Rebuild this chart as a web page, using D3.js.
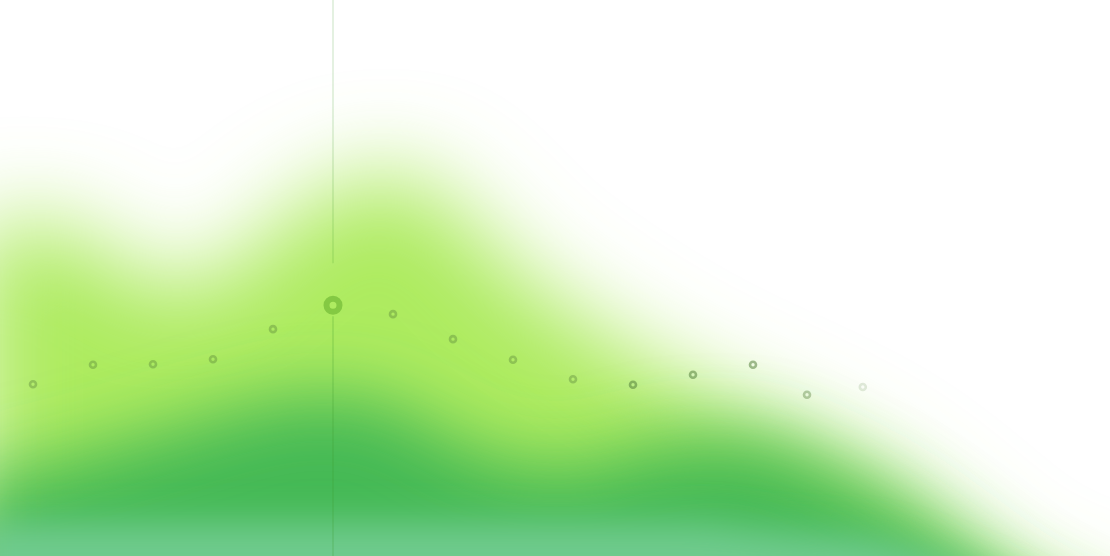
<!DOCTYPE html>
<html>
<head>
<meta charset="utf-8">
<script src="https://cdn.jsdelivr.net/npm/d3@7"></script>
<style>
  html, body { margin: 0; padding: 0; background: #fff; overflow: hidden; }
  svg { display: block; }
</style>
</head>
<body>
<div id="chart"></div>
<script>
const width = 1110;
const height = 556;

// point positions (in category units) and values for the marker line
const pointX = [0, 1, 2, 3, 4, 5, 6, 7, 8, 9, 10, 11, 12, 12.9, 13.83];
const pointValues = [30.9, 34.4, 34.5, 35.4, 40.8, 45.1, 43.5, 39.0, 35.3, 31.8, 30.8, 32.6, 34.4, 29.0, 30.4];
const activeIndex = 5;

// background series, sampled one unit apart starting left of the frame
const areaX = [-1, 0, 1, 2, 3, 4, 5, 6, 7, 8, 9, 10, 11, 12, 13, 14, 15, 16, 17, 18];
const limeValues = [59, 60, 57, 49, 50, 59, 66, 69, 63, 52, 44, 37, 31, 26, 21, 15, 7, -2, -8, -10];
const greenValues = [14, 16, 19, 22, 25, 28, 29, 27, 21, 17, 16, 19, 21, 21, 17, 12, 5, -3, -10, -14];
const tealValues = [6, 6, 6, 6, 6, 6, 6, 6, 6, 6, 6, 6, 6, 5, 4, 3, 0, -4, -9, -12];

const x = d3.scaleLinear().domain([0, 12]).range([33, 753]);
const y = d3.scaleLinear().domain([0, 100]).range([height, 0]);

const svg = d3.select("#chart").append("svg")
    .attr("width", width)
    .attr("height", height);

const defs = svg.append("defs");
[["blurBig", 46], ["blurMid", 36], ["blurSmall", 18]].forEach(([id, s]) => {
    defs.append("filter")
        .attr("id", id)
        .attr("x", "-50%").attr("y", "-50%")
        .attr("width", "200%").attr("height", "200%")
        .append("feGaussianBlur")
        .attr("stdDeviation", s);
});

// areas extend below the frame so the blur doesn't fade the bottom edge
const area = d3.area()
    .x(d => x(d[0]))
    .y0(height + 200)
    .y1(d => y(d[1]))
    .curve(d3.curveMonotoneX);

const bg = svg.append("g");

bg.append("path")
    .datum(areaX.map((v, i) => [v, limeValues[i]]))
    .attr("d", area)
    .attr("fill", "#adeb5f")
    .attr("filter", "url(#blurBig)");

bg.append("path")
    .datum(areaX.map((v, i) => [v, greenValues[i]]))
    .attr("d", area)
    .attr("fill", "#45b955")
    .attr("filter", "url(#blurMid)");

bg.append("path")
    .datum(areaX.map((v, i) => [v, tealValues[i]]))
    .attr("d", area)
    .attr("fill", "#6fcb8e")
    .attr("filter", "url(#blurSmall)");

// pointer line through the active point, with a gap around the marker
const ax = x(pointX[activeIndex]);
const ay = y(pointValues[activeIndex]);
svg.append("line")
    .attr("x1", ax).attr("x2", ax)
    .attr("y1", 0).attr("y2", ay - 42)
    .attr("stroke", "rgba(60,150,40,0.28)")
    .attr("stroke-width", 1);
svg.append("line")
    .attr("x1", ax).attr("x2", ax)
    .attr("y1", ay + 11).attr("y2", height)
    .attr("stroke", "rgba(60,150,40,0.35)")
    .attr("stroke-width", 1);

const dotOpacity = i => i === 14 ? 0.16 : i === 13 ? 0.38 : i >= 10 ? 0.52 : 0.36;

const points = pointValues.map((v, i) => ({ i, x: pointX[i], v }))
    .filter(d => d.i !== activeIndex);

svg.append("g")
    .selectAll("circle")
    .data(points)
    .join("circle")
    .attr("cx", d => x(d.x))
    .attr("cy", d => y(d.v))
    .attr("r", 3)
    .attr("fill", "none")
    .attr("stroke", "#4f7a35")
    .attr("stroke-width", 2.6)
    .attr("stroke-opacity", d => dotOpacity(d.i));

svg.append("circle")
    .attr("cx", ax)
    .attr("cy", ay)
    .attr("r", 6.5)
    .attr("fill", "none")
    .attr("stroke", "#84c943")
    .attr("stroke-width", 6);
</script>
</body>
</html>
